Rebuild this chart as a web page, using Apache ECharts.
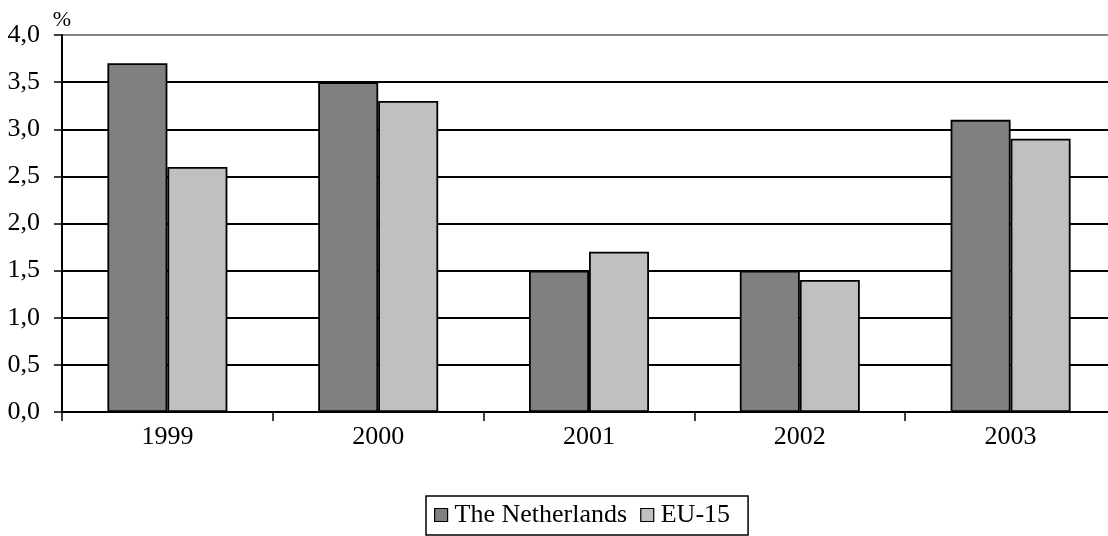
<!DOCTYPE html>
<html>
<head>
<meta charset="utf-8">
<style>
  html, body { margin: 0; padding: 0; background: #fff; overflow: hidden; }
  /* the plot runs a little past the right edge of the page */
  #chart { width: 1120px; height: 536px; }
</style>
<script src="https://cdn.jsdelivr.net/npm/echarts@6/dist/echarts.min.js"></script>
</head>
<body>
<div id="chart"></div>
<script>
// Annual growth, percent
const years = ['1999', '2000', '2001', '2002', '2003'];
const netherlands = [3.7, 3.5, 1.5, 1.5, 3.1];
const eu15 = [2.6, 3.3, 1.7, 1.4, 2.9];
const seriesNames = ['The Netherlands', 'EU-15'];

const FONT = '"Liberation Serif", "Times New Roman", serif';
const FS = 26;

// gridline colours: black except the top line at 4,0
const gridColors = ['#000', '#000', '#000', '#000', '#000', '#000', '#000', '#000', '#858585'];

const chart = echarts.init(document.getElementById('chart'), null, { renderer: 'canvas' });
chart.setOption({
  animation: false,
  backgroundColor: '#fff',
  textStyle: { fontFamily: FONT, color: '#000' },
  grid: { left: 62, top: 35, right: 4, bottom: 124, containLabel: false },
  legend: {
    data: seriesNames,
    icon: 'rect',
    top: 496,
    left: 426,
    orient: 'horizontal',
    itemWidth: 13,
    itemHeight: 13,
    itemGap: 13,
    padding: [6, 18, 7, 8],
    borderColor: '#000',
    borderWidth: 1.5,
    textStyle: { fontFamily: FONT, fontSize: FS, color: '#000', padding: [0, 0, 0, 2] },
    itemStyle: { borderColor: '#000', borderWidth: 1.2 }
  },
  xAxis: {
    type: 'category',
    data: years,
    axisLine: { lineStyle: { color: '#000', width: 2 } },
    axisTick: { show: true, length: 9, lineStyle: { color: '#000', width: 1.5 } },
    axisLabel: { fontFamily: FONT, fontSize: FS, color: '#000', margin: 12 },
    splitLine: { show: false }
  },
  yAxis: {
    type: 'value',
    name: '%',
    nameLocation: 'end',
    nameGap: 4,
    nameTextStyle: { fontFamily: FONT, fontSize: 22, color: '#000', align: 'center', padding: [0, 0, 0, 0] },
    min: 0,
    max: 4,
    interval: 0.5,
    axisLine: { show: true, lineStyle: { color: '#000', width: 2 } },
    axisTick: { show: true, length: 8, lineStyle: { color: '#000', width: 1.5 } },
    axisLabel: {
      fontFamily: FONT, fontSize: FS, color: '#000', margin: 22,
      formatter: v => v.toFixed(1).replace('.', ',')
    },
    splitLine: { show: true, lineStyle: { color: gridColors, width: 2 } }
  },
  series: [
    {
      name: seriesNames[0],
      type: 'bar',
      data: netherlands,
      barWidth: 60,
      barGap: '0%',
      itemStyle: { color: '#808080', borderColor: '#000', borderWidth: 1.8 }
    },
    {
      name: seriesNames[1],
      type: 'bar',
      data: eu15,
      barWidth: 60,
      barGap: '0%',
      itemStyle: { color: '#c0c0c0', borderColor: '#000', borderWidth: 1.8 }
    }
  ]
});
</script>
</body>
</html>
